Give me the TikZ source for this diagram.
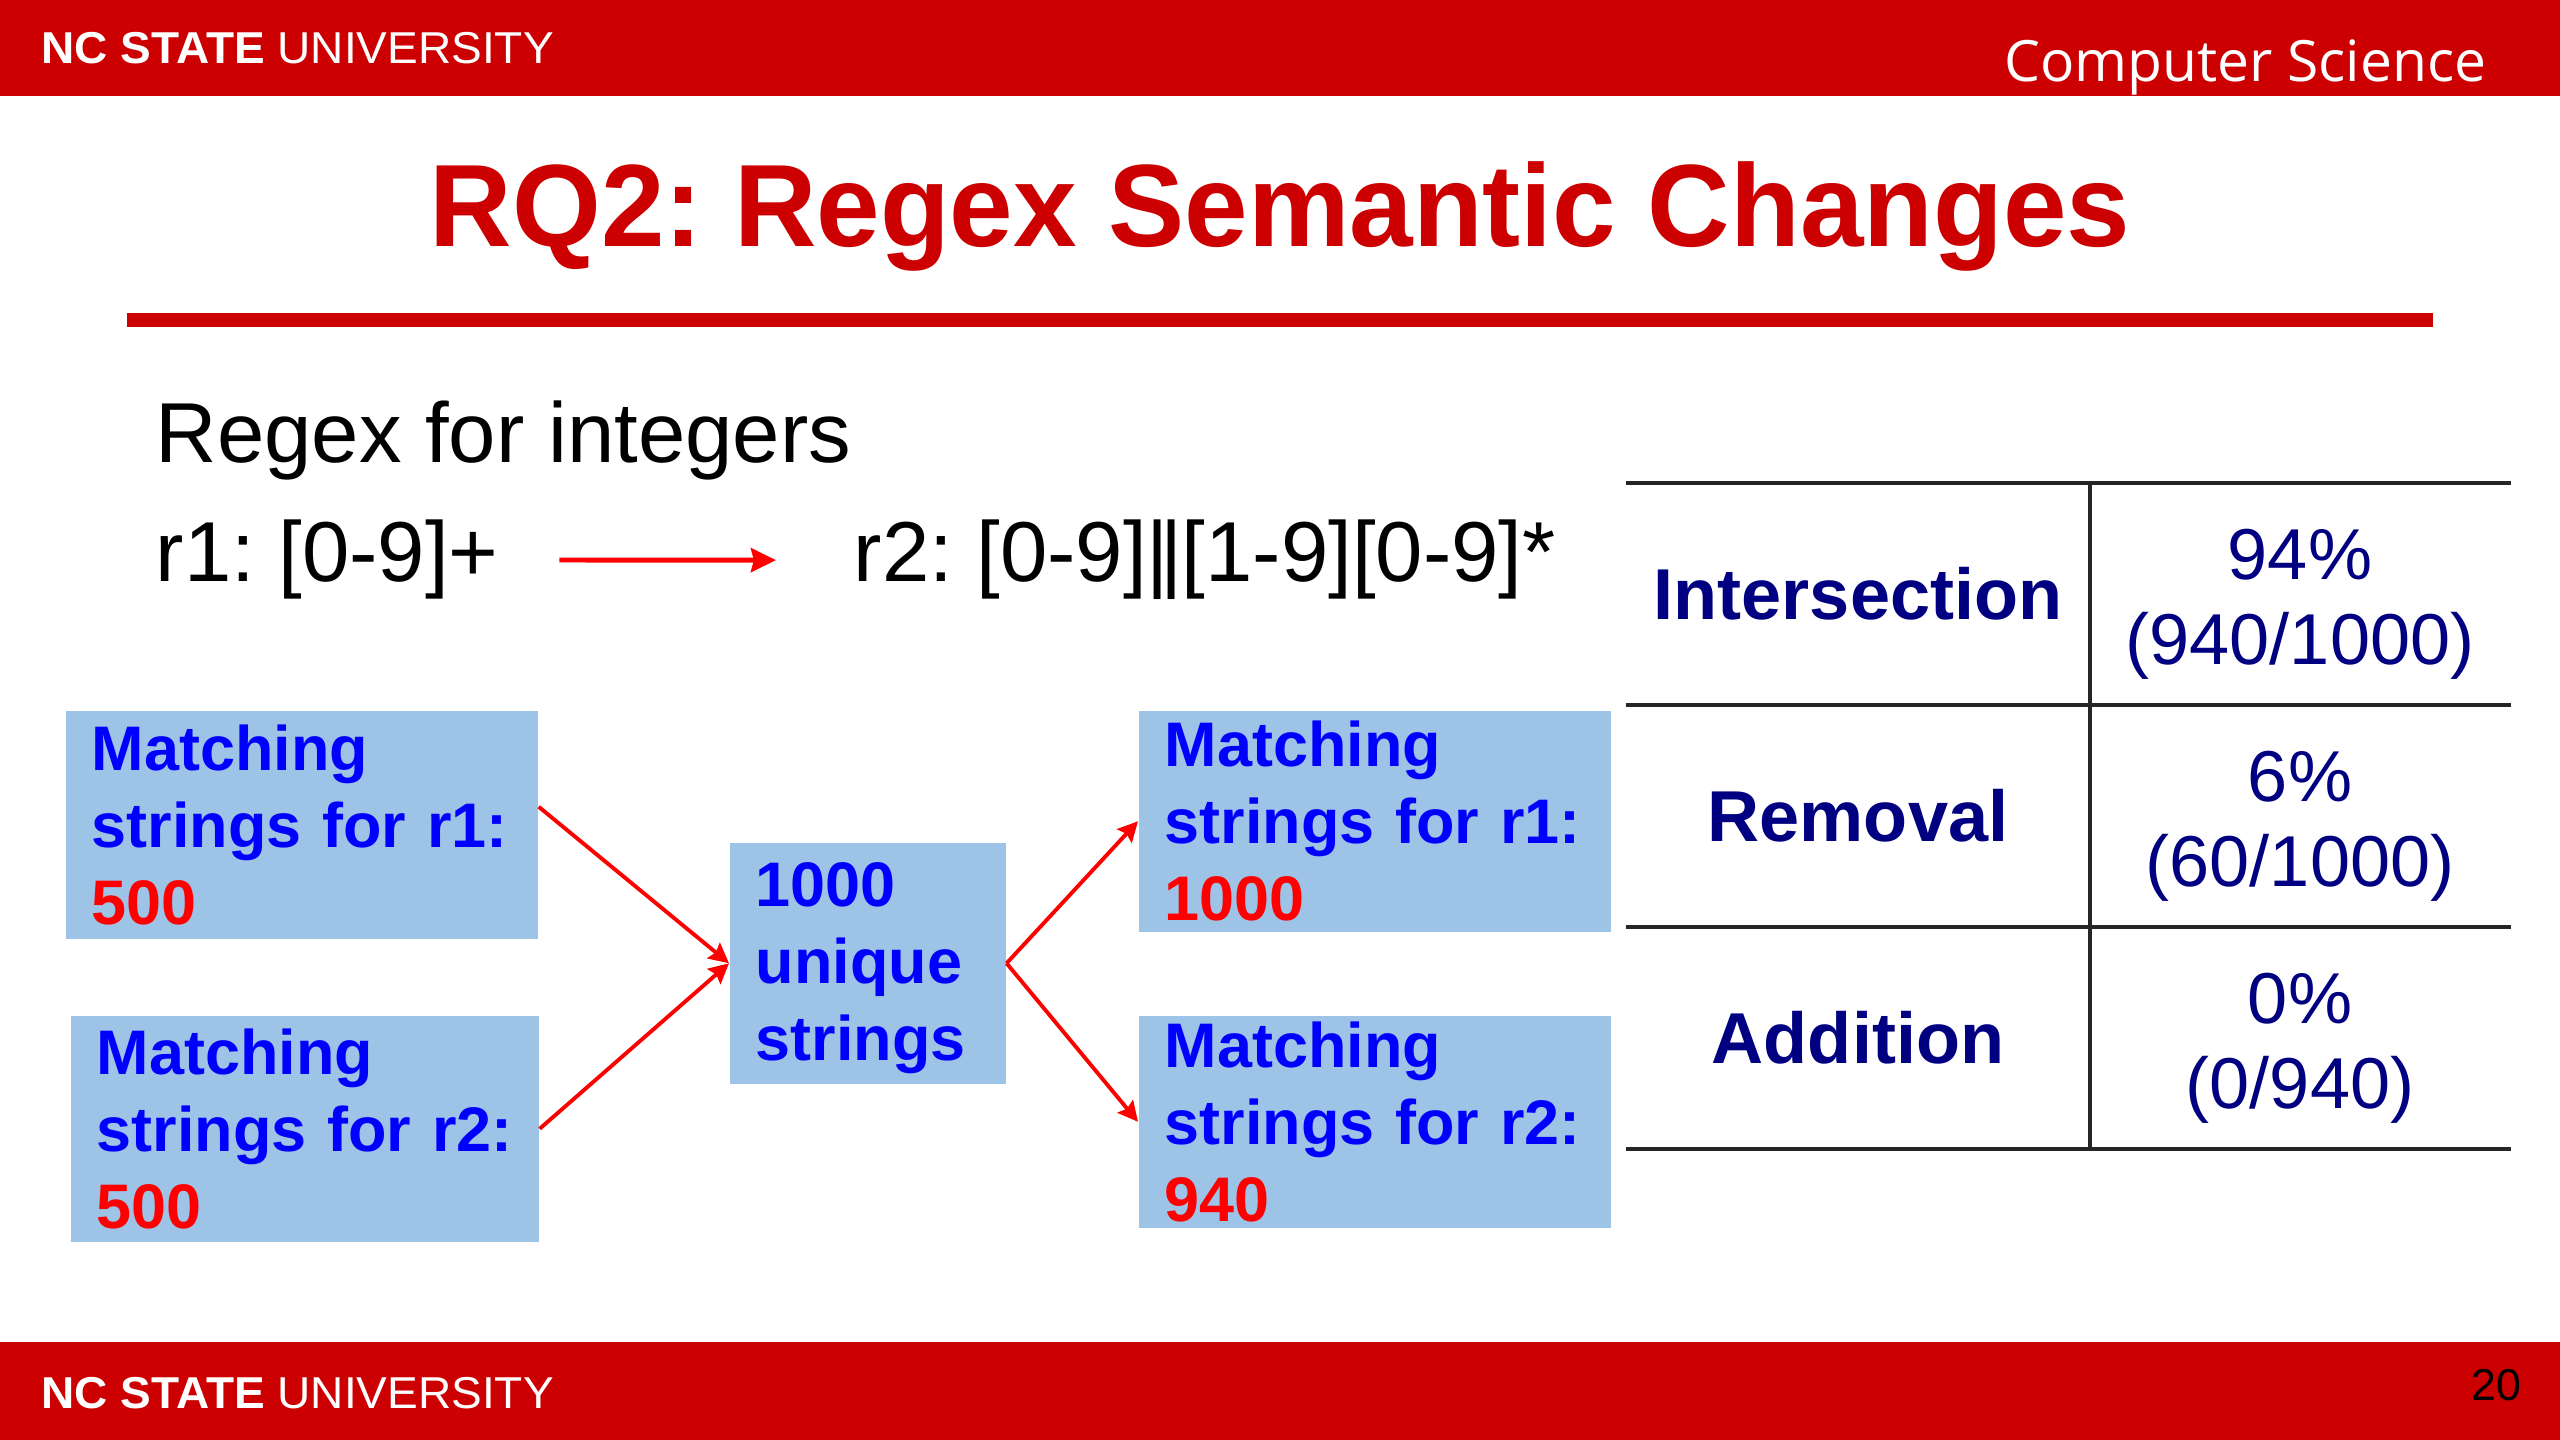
\documentclass[tikz,border=0pt]{standalone}
\usepackage{fontspec}
\setmainfont{Liberation Sans}
\newfontfamily\osans{Open Sans}
\usetikzlibrary{arrows.meta}
\definecolor{ncred}{HTML}{CC0000}
\definecolor{boxblue}{HTML}{9DC3E6}
\definecolor{navy}{HTML}{000080}
\frenchspacing

\begin{document}
\begin{tikzpicture}[x=0.01cm, y=-0.01cm,
    box/.style={fill=boxblue, anchor=north west, align=left, inner xsep=0.26cm, inner ysep=0pt,
      text=blue, font=\bfseries\fontsize{17.9}{21.9}\selectfont},
    arr/.style={red, line width=1.1pt, -{Stealth[length=0.2cm, width=0.2cm, inset=0.03cm]}},
    cell/.style={text=navy, align=center, font=\fontsize{20.5}{24.2}\selectfont},
    tline/.style={black!85, line width=0.9pt},
    logo/.style={text=white, inner sep=0pt, font=\fontsize{12.7}{15}\selectfont}]
  \useasboundingbox (0,0) rectangle (2560,1440);
  % header and footer bars
  \fill[ncred] (0,0) rectangle (2560,96);
  \fill[ncred] (0,1342) rectangle (2560,1440);
  \node [logo, anchor=base west] (logotop) at (41,64) {\scalebox{1.03}[1]{\textbf{NC STATE} UNIVERSITY}};
  \node [logo, anchor=base east, font=\osans\fontsize{16.2}{20}\selectfont] (dept) at (2487,82) {Computer Science};
  \node [logo, anchor=base west] (logobot) at (41,1408) {\scalebox{1.03}[1]{\textbf{NC STATE} UNIVERSITY}};
  \node [logo, anchor=base east, text=black] (page) at (2522,1400) {20};
  % title
  \node [anchor=base, text=ncred, font=\bfseries\fontsize{33.3}{40}\selectfont] (title) at (1280,247)
    {\scalebox{0.975}[1]{RQ2: Regex Semantic Changes}};
  \fill[ncred] (127,313) rectangle (2433,327);
  % regexes
  \node [anchor=base west, inner sep=0pt, font=\fontsize{24.2}{29}\selectfont] (head) at (155,463) {Regex for integers};
  \node [anchor=base west, inner sep=0pt, font=\fontsize{24.2}{29}\selectfont] (r1) at (155,582) {r1: [0-9]+};
  \node [anchor=base west, inner sep=0pt, font=\fontsize{24.2}{29}\selectfont] (r2) at (853,582)
    {r2: [0-9]\kern-0.01em|\kern-0.09em|\kern-0.01em[1-9][0-9]*};
  \draw [red, line width=1.4pt, -{Stealth[length=0.25cm, width=0.24cm, inset=0.03cm]},
    shorten <=0.6cm, shorten >=0.77cm] (r1.east) -- (r2.west);
  % string sets
  \node [box, minimum width=4.72cm, text width=4.2cm, minimum height=2.28cm] (mA) at (65,710)
    {Matching\\strings for r1:\\\textcolor{red}{500}};
  \node [box, minimum width=4.68cm, text width=4.16cm, minimum height=2.26cm] (mB) at (70,1015)
    {Matching\\strings for r2:\\\textcolor{red}{500}};
  \node [box, minimum width=2.76cm, text width=2.24cm, minimum height=2.41cm] (uniq) at (729,842)
    {\rule{0pt}{0.53cm}1000\\unique\\strings};
  \node [box, minimum width=4.72cm, text width=4.2cm, minimum height=2.21cm] (mC) at (1138,710)
    {Matching\\strings for r1:\\\textcolor{red}{1000}};
  \node [box, minimum width=4.72cm, text width=4.2cm, minimum height=2.12cm] (mD) at (1138,1015)
    {Matching\\strings for r2:\\\textcolor{red}{940}};
  \draw [arr] ([yshift=0.18cm]mA.east) -- (uniq.west);
  \draw [arr] (mB.east) -- (uniq.west);
  \draw [arr] (uniq.east) -- (mC.west);
  \draw [arr] (uniq.east) -- (mD.west);
  % table
  \foreach \y in {483,705,927,1149}
    \draw [tline] (1626,\y) -- (2511,\y);
  \draw [tline] (2090,483) -- (2090,1149);
  \node [cell, font=\bfseries\fontsize{20.5}{24.2}\selectfont] (inter) at (1858,594) {Intersection};
  \node [cell, font=\bfseries\fontsize{20.5}{24.2}\selectfont] (remov) at (1858,816) {Removal};
  \node [cell, font=\bfseries\fontsize{20.5}{24.2}\selectfont] (addit) at (1858,1038) {Addition};
  \node [cell] (interv) at (2300,604) {94\%\\(940/1000)};
  \node [cell] (removv) at (2300,826) {6\%\\(60/1000)};
  \node [cell] (additv) at (2300,1048) {0\%\\(0/940)};
\end{tikzpicture}
\end{document}
